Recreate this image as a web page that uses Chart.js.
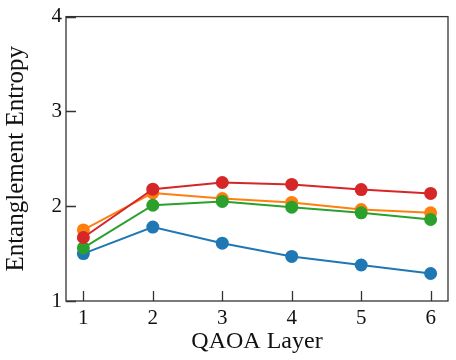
<!DOCTYPE html>
<html><head><meta charset="utf-8">
<script src="https://cdn.jsdelivr.net/npm/chart.js@4/dist/chart.umd.min.js"></script>
<style>html,body{margin:0;padding:0;background:#fff}#wrap{width:456px;height:360px}</style>
</head><body><div id="wrap"><canvas id="c" width="456" height="360"></canvas></div>
<script>
const layers=[1,2,3,4,5,6];
const blueVals=[1.50,1.78,1.61,1.47,1.38,1.29];
const orangeVals=[1.75,2.14,2.08,2.04,1.965,1.93];
const greenVals=[1.56,2.01,2.05,1.99,1.93,1.86];
const redVals=[1.67,2.18,2.25,2.23,2.175,2.135];
const yTicks=[1,2,3,4];
const FONT='"Liberation Serif", serif';

function pts(v){return layers.map((x,i)=>({x:x,y:v[i]}));}
function ds(label,vals,color,order){
  return {label:label,data:pts(vals),borderColor:color,backgroundColor:color,
    borderWidth:2,pointRadius:6.5,pointHoverRadius:6.5,pointBorderWidth:0,order:order,tension:0};
}
const frame={id:'frame',afterDraw(chart){
  const ctx=chart.ctx,a=chart.chartArea,xs=chart.scales.x,ys=chart.scales.y;
  ctx.save();
  ctx.strokeStyle='#333';ctx.lineWidth=1.3;
  ctx.strokeRect(a.left,a.top,a.right-a.left,a.bottom-a.top);
  ctx.beginPath();
  layers.forEach(v=>{const p=Math.round(xs.getPixelForValue(v))+0.5;ctx.moveTo(p,a.bottom);ctx.lineTo(p,a.bottom-10);});
  yTicks.forEach(v=>{const p=Math.round(ys.getPixelForValue(v))+0.5;ctx.moveTo(a.left,p);ctx.lineTo(a.left+10,p);});
  ctx.stroke();
  ctx.restore();
}};
new Chart(document.getElementById('c'),{
  type:'line',
  data:{datasets:[
    ds('blue',blueVals,'#1f77b4',4),
    ds('orange',orangeVals,'#ff7f0e',3),
    ds('green',greenVals,'#2ca02c',2),
    ds('red',redVals,'#d62728',1)
  ]},
  options:{
    responsive:false,animation:false,devicePixelRatio:1,
    layout:{padding:{top:16,right:8,left:0,bottom:0}},
    plugins:{legend:{display:false},tooltip:{enabled:false}},
    scales:{
      x:{type:'linear',min:0.75,max:6.25,
        afterBuildTicks(s){s.ticks=layers.map(v=>({value:v}));},
        afterFit(s){s.height=59;},
        grid:{display:false,drawTicks:false},border:{display:false},
        ticks:{color:'#111',font:{family:FONT,size:21},padding:5,maxRotation:0},
        title:{display:true,text:'QAOA Layer',color:'#111',font:{family:FONT,size:24},padding:{top:0,bottom:4}}
      },
      y:{type:'linear',min:1,max:4,
        afterBuildTicks(s){s.ticks=yTicks.map(v=>({value:v}));},
        afterFit(s){s.width=66;},
        grid:{display:false,drawTicks:false},border:{display:false},
        ticks:{color:'#111',font:{family:FONT,size:21},padding:4},
        title:{display:true,text:'Entanglement Entropy',color:'#111',font:{family:FONT,size:25},padding:{top:1,bottom:0}}
      }
    }
  },
  plugins:[frame]
});
</script></body></html>
